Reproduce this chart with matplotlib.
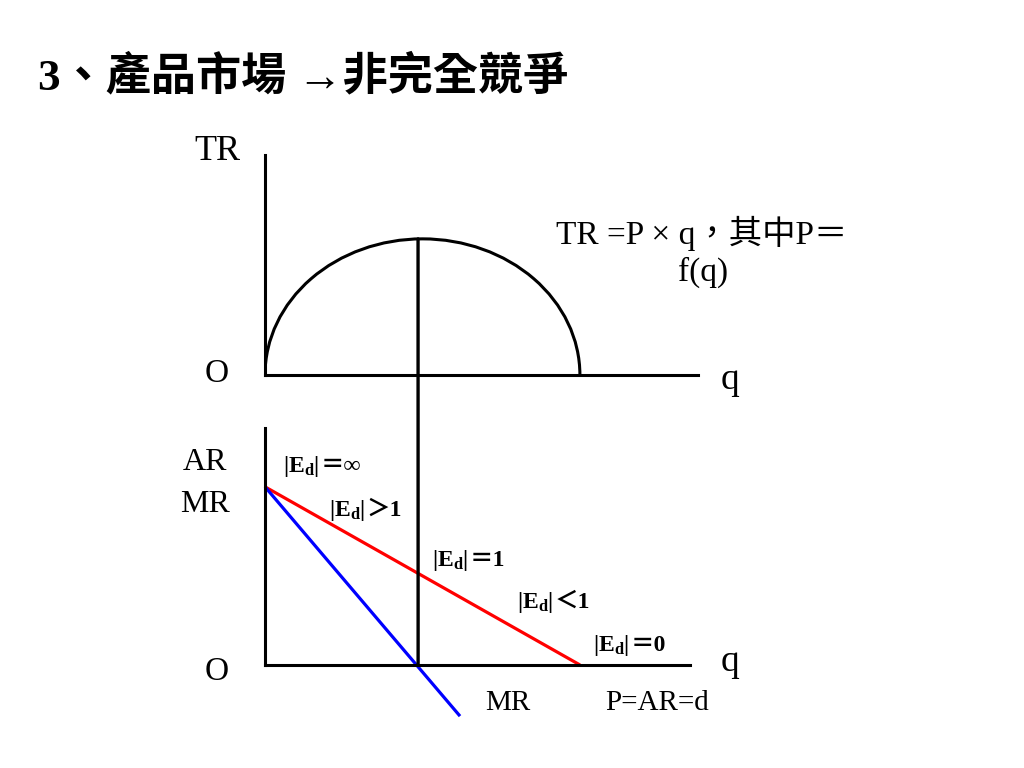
import matplotlib.pyplot as plt
from matplotlib.patches import ConnectionPatch, Arc

plt.rcParams["font.family"] = ["Liberation Serif", "Noto Sans CJK TC"]
plt.rcParams["mathtext.fontset"] = "custom"
plt.rcParams["mathtext.rm"] = "Liberation Serif"
plt.rcParams["mathtext.bf"] = "Liberation Serif:bold"

# 1. DATOS
# TR: arco que corta el eje q en 0 y 10, máximo en q = 5
tr_zero_q = [0.0, 10.0]
tr_max = 25.0

# AR (demanda) y MR
ar_q = [0, 10.0]
ar_p = [10.0, 0]
mr_q = [0, 6.19]
mr_p = [10.0, -2.87]

q_unit = 4.86        # |Ed| = 1, TR máximo

ed_rest = ["＝∞", "＞1", "＝1", "＜1", "＝0"]
ed_pos_px = [(283, 472), (329, 516), (432, 566), (517, 608), (593, 651)]

W, H = 1024, 768


def px(x, y):
    return x / W, 1 - y / H


# 2. FIGURA
fig = plt.figure(figsize=(10.24, 7.68), dpi=100)
fig.patch.set_facecolor("white")

lw_axis = 2.2
ax_top = fig.add_axes([265 / W, (H - 375) / H, 433 / W, 220 / H])
ax_bot = fig.add_axes([265 / W, (H - 665) / H, 425 / W, 237 / H])

for ax in (ax_top, ax_bot):
    for s in ("top", "right"):
        ax.spines[s].set_visible(False)
    for s in ("left", "bottom"):
        ax.spines[s].set_linewidth(lw_axis)
        ax.spines[s].set_color("black")
    ax.set_xticks([])
    ax.set_yticks([])
    ax.patch.set_alpha(0)

ax_top.set_xlim(0, 13.75)
ax_top.set_ylim(0, 40.4)
ax_bot.set_xlim(0, 13.49)
ax_bot.set_ylim(0, 13.3)

tr_mid = (tr_zero_q[0] + tr_zero_q[1]) / 2
tr_arc = Arc((tr_mid, 0), tr_zero_q[1] - tr_zero_q[0], 2 * tr_max,
             theta1=0, theta2=180, color="black", linewidth=2.2)
ax_top.add_patch(tr_arc)

ax_bot.plot(ar_q, ar_p, color="#ff0000", linewidth=2.3, solid_capstyle="butt")
ax_bot.plot(mr_q, mr_p, color="#0000ff", linewidth=2.3, clip_on=False,
            solid_capstyle="butt")

con = ConnectionPatch(xyA=(q_unit, tr_max), coordsA=ax_top.transData,
                      xyB=(q_unit, 0), coordsB=ax_bot.transData,
                      color="black", linewidth=2.4)
fig.add_artist(con)

# 3. TEXTOS
fig.text(*px(38, 76), "3、產品市場 →非完全競爭", fontsize=32.5, fontweight="bold",
         ha="left", va="center")

fig.text(*px(217, 152), "TR", fontsize=26, ha="center", va="center")
fig.text(*px(217, 374), "O", fontsize=24, ha="center", va="center")
fig.text(*px(730, 380), "q", fontsize=27, ha="center", va="center")
fig.text(*px(205, 463), "AR", fontsize=23, ha="center", va="center")
fig.text(*px(205, 505), "MR", fontsize=23, ha="center", va="center")
fig.text(*px(217, 672), "O", fontsize=24, ha="center", va="center")
fig.text(*px(730, 662), "q", fontsize=27, ha="center", va="center")
fig.text(*px(508, 703), "MR", fontsize=21, ha="center", va="center")
fig.text(*px(657, 703), "P=AR=d", fontsize=21, ha="center", va="center")

fig.text(*px(702, 233), "TR =P × q，其中P＝", fontsize=24, ha="center", va="center")
fig.text(*px(703, 272), "f(q)", fontsize=24, ha="center", va="center")

# |Ed| etiquetas: parte matemática + signo de ancho completo al lado
fig.canvas.draw()
renderer = fig.canvas.get_renderer()
for rest, (x, y) in zip(ed_rest, ed_pos_px):
    t1 = fig.text(*px(x, y), r"$\mathbf{|E_d|}$", fontsize=17,
                  ha="left", va="baseline")
    x_end = t1.get_window_extent(renderer).x1
    fig.text((x_end + 1) / W, 1 - y / H, rest, fontsize=17, fontweight="bold",
             ha="left", va="baseline")

plt.savefig("out.png", dpi=100, facecolor="white")
plt.close()
